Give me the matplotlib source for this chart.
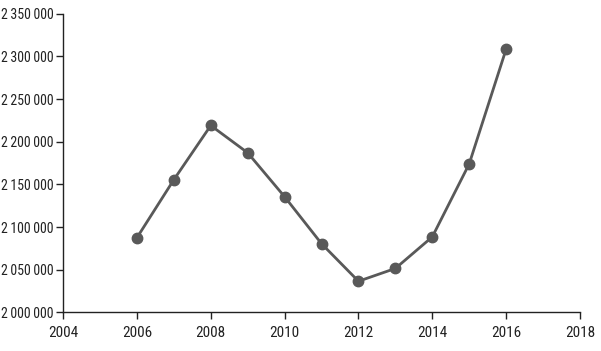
import matplotlib
matplotlib.use('Agg')
import matplotlib.pyplot as plt
from matplotlib.ticker import FuncFormatter

years = [2006, 2007, 2008, 2009, 2010, 2011, 2012, 2013, 2014, 2015, 2016]
values = [2087500, 2155500, 2219000, 2187000, 2135500, 2080500, 2036500, 2051500, 2088500, 2174000, 2308500]

x_ticks = list(range(2004, 2019, 2))
y_ticks = list(range(2000000, 2350001, 50000))

plt.rcParams['font.family'] = ['Roboto Condensed', 'DejaVu Sans']

fig = plt.figure(figsize=(6.01, 3.51), dpi=100)
ax = fig.add_axes([0.105, 0.11, 0.86, 0.851])

col = '#595959'
ax.plot(years, values, color=col, lw=2, marker='o', ms=7.5, mec=col, mfc=col, clip_on=False)

ax.set_xlim(2004, 2018)
ax.set_ylim(2000000, 2350000)
ax.set_xticks(x_ticks)
ax.set_yticks(y_ticks)
# thin space as thousands separator, keeps labels narrow like the original
ax.yaxis.set_major_formatter(FuncFormatter(lambda v, p: f'{int(v):,}'.replace(',', '\u2009')))

for s in ['top', 'right']:
    ax.spines[s].set_visible(False)
for s in ['left', 'bottom']:
    ax.spines[s].set_color('#222222')
    ax.spines[s].set_linewidth(1)
ax.tick_params(axis='both', length=5, width=1, color='#222222', labelcolor='#222222')
ax.tick_params(axis='y', pad=2, labelsize=10)
ax.tick_params(axis='x', pad=5, labelsize=11)

fig.savefig('out.png', dpi=100)
